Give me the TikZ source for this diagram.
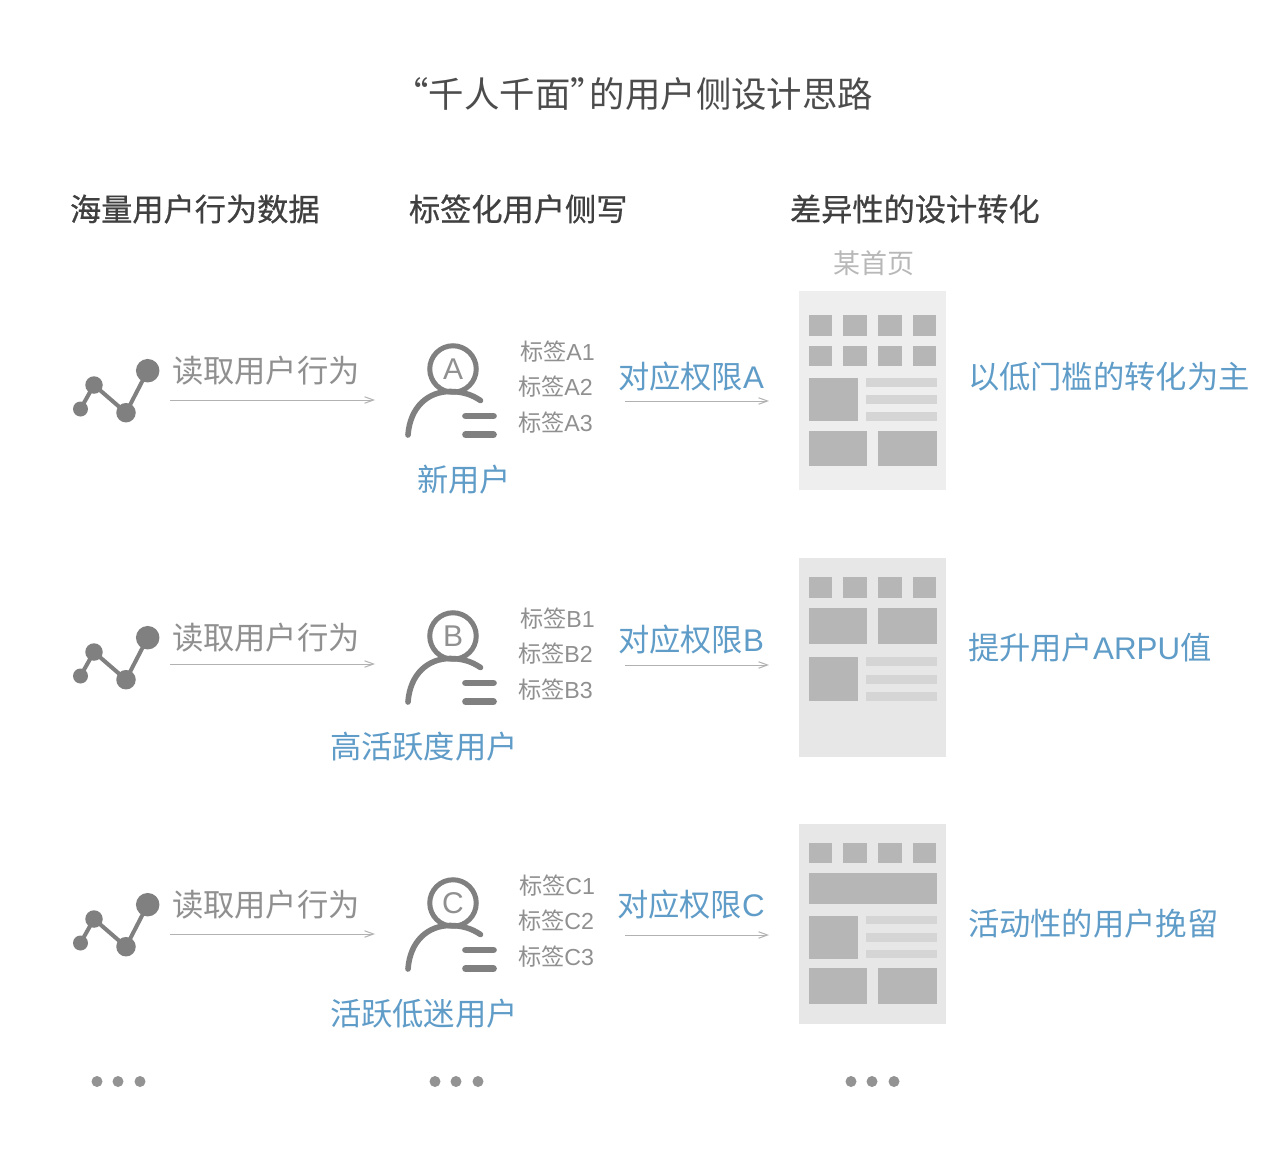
\documentclass[tikz,border=0pt]{standalone}
\usepackage{fontspec}
\setmainfont{Noto Sans CJK SC}
\newfontfamily\latf{Liberation Sans}
\newfontfamily\headf[FakeBold=0.6]{Noto Sans CJK SC}
\newcommand{\lat}[1]{{\latf #1}}
\usetikzlibrary{arrows.meta}
\definecolor{bluetxt}{HTML}{5F9CC8}
\definecolor{greytxt}{HTML}{909090}
\definecolor{icon}{HTML}{808080}
\definecolor{pagebg}{HTML}{EEEEEF}
\definecolor{pagebgb}{HTML}{E7E7E8}
\definecolor{blk}{HTML}{B6B6B7}
\definecolor{lin}{HTML}{D5D5D6}
\tikzset{
 txt/.style={inner sep=0pt,outer sep=0pt,anchor=west,font=\fontsize{#1}{#1}\selectfont},
 head/.style={inner sep=0pt,outer sep=0pt,anchor=west,font=\fontsize{31.2}{31.2}\selectfont\headf,text=black!75},
 grey/.style={txt=31.3,text=greytxt},
 tag/.style={txt=23.2,text=greytxt},
 blue/.style={txt=31.3,text=bluetxt},
 flow/.style={draw=black!30,line width=1pt,-{Straight Barb[length=9pt,width=6.5pt]}},
 dotn/.style={circle,fill=icon,inner sep=0pt,minimum size=#1},
}
\newcommand{\chart}[1]{%
 \begin{scope}[yshift=-#1pt]
 \node[dotn=15pt] (c1#1) at (80.5,409) {};
 \node[dotn=17.5pt] (c2#1) at (94,385) {};
 \node[dotn=19.5pt] (c3#1) at (126,412.7) {};
 \node[dotn=23.5pt] (c4#1) at (147.7,370.7) {};
 \draw[icon,line width=4pt] (c1#1.center)--(c2#1.center)--(c3#1.center)--(c4#1.center);
 \end{scope}}
\newcommand{\person}[2]{%
 \begin{scope}[yshift=-#1pt]
 \node[circle,draw=icon,line width=5pt,minimum size=46.5pt,inner sep=0pt,font=\fontsize{30}{30}\selectfont\latf,text=greytxt] (h#2) at (453,369) {#2};
 \draw[icon,line width=5.6pt,line cap=round] (408,435) .. controls (410,407) and (428,391.5) .. (450,391.5) .. controls (461,391.5) and (471,394) .. (480.5,400.5);
 \draw[icon,line width=6.7pt,line cap=round] (465.5,416)--(493.5,416);
 \draw[icon,line width=6.7pt,line cap=round] (465.5,434.7)--(493.5,434.7);
 \end{scope}}
\begin{document}
\begin{tikzpicture}[x=1pt,y=-1pt]
\useasboundingbox (0,0) rectangle (1280,1154);
\fill[white] (0,0) rectangle (1280,1154);
\node[txt=35.4,text=black!70] (title) at (393.5,94) {“千人千面”\hspace{-16pt}的用户侧设计思路};
\node[head] (h1) at (70,209) {海量用户行为数据};
\node[head] (h2) at (409,209) {标签化用户侧写};
\node[head] (h3) at (790,209) {差异性的设计转化};
\node[txt=27,text=black!28] (pg) at (833,263) {某首页};

\chart{0}\chart{267}\chart{534}
\person{0}{A}\person{267}{B}\person{534}{C}

% row 1
\node[grey] (r1) at (172,371) {读取用户行为};
\coordinate (a1s) at (170,400); \coordinate (a1e) at (375,400);
\draw[flow] (a1s)--(a1e);
\node[tag] (t11) at (520,351.7) {标签\lat{A1}};
\node[tag] (t12) at (518,386.7) {标签\lat{A2}};
\node[tag] (t13) at (518,422.7) {标签\lat{A3}};
\node[blue] (b1) at (618,377) {对应权限\lat{A}};
\coordinate (b1s) at (625,401); \coordinate (b1e) at (769,401);
\draw[flow] (b1s)--(b1e);
\node[blue] (u1) at (417,480) {新用户};
\node[blue] (d1) at (968,377) {以低门槛的转化为主};

% row 2
\node[grey] (r2) at (172,638) {读取用户行为};
\coordinate (a2s) at (170,664); \coordinate (a2e) at (375,664);
\draw[flow] (a2s)--(a2e);
\node[tag] (t21) at (520,618.7) {标签\lat{B1}};
\node[tag] (t22) at (518,653.7) {标签\lat{B2}};
\node[tag] (t23) at (518,689.7) {标签\lat{B3}};
\node[blue] (b2) at (618,640) {对应权限\lat{B}};
\coordinate (b2s) at (625,665); \coordinate (b2e) at (769,665);
\draw[flow] (b2s)--(b2e);
\node[blue] (u2) at (330,747) {高活跃度用户};
\node[blue] (d2) at (968,648) {提升用户\lat{ARPU}值};

% row 3
\node[grey] (r3) at (172,905) {读取用户行为};
\coordinate (a3s) at (170,934); \coordinate (a3e) at (375,934);
\draw[flow] (a3s)--(a3e);
\node[tag] (t31) at (519,885.7) {标签\lat{C1}};
\node[tag] (t32) at (518,920.7) {标签\lat{C2}};
\node[tag] (t33) at (518,956.7) {标签\lat{C3}};
\node[blue] (b3) at (617,905) {对应权限\lat{C}};
\coordinate (b3s) at (625,935); \coordinate (b3e) at (769,935);
\draw[flow] (b3s)--(b3e);
\node[blue] (u3) at (330,1014) {活跃低迷用户};
\node[blue] (d3) at (968,924) {活动性的用户挽留};

% page 1
\fill[pagebg] (799,291) rectangle (946,490);
\foreach \x in {808.7,843.3,878.3,912.7}{
 \fill[blk] (\x,315.3) rectangle +(23.6,20.5);
 \fill[blk] (\x,345.5) rectangle +(23.6,20.5);}
\fill[blk] (808.7,377.8) rectangle (858,421);
\fill[lin] (866,378) rectangle (936.5,387);
\fill[lin] (866,395) rectangle (936.5,404);
\fill[lin] (866,412) rectangle (936.5,421);
\fill[blk] (808.7,430.7) rectangle (866.8,466);
\fill[blk] (878.3,430.7) rectangle (936.5,466);

% page 2
\fill[pagebgb] (799,557.5) rectangle (946,757);
\foreach \x in {808.7,843.3,878.3,912.7}{\fill[blk] (\x,576.7) rectangle +(23.6,21);}
\fill[blk] (808.7,608.3) rectangle (866.8,643.5);
\fill[blk] (878.3,608.3) rectangle (936.5,643.5);
\fill[blk] (808.7,657) rectangle (858,700.8);
\fill[lin] (866,657.3) rectangle (936.5,665.5);
\fill[lin] (866,675) rectangle (936.5,683.7);
\fill[lin] (866,692.3) rectangle (936.5,700.7);

% page 3
\fill[pagebgb] (799,824.3) rectangle (946,1024);
\foreach \x in {808.7,843.3,878.3,912.7}{\fill[blk] (\x,843) rectangle +(23.6,20.4);}
\fill[blk] (808.7,873.3) rectangle (936.5,903.5);
\fill[blk] (808.7,915.7) rectangle (858,959);
\fill[lin] (866,916) rectangle (936.5,924.3);
\fill[lin] (866,933.3) rectangle (936.5,941.7);
\fill[lin] (866,950) rectangle (936.5,958.4);
\fill[blk] (808.7,968.3) rectangle (866.8,1003.8);
\fill[blk] (878.3,968.3) rectangle (936.5,1003.8);

% ellipses
\foreach \x in {97,118,140,435,456,478,851,872,894}{
 \fill[icon!85] (\x,1081.5) circle (5.5);}
\end{tikzpicture}
\end{document}
